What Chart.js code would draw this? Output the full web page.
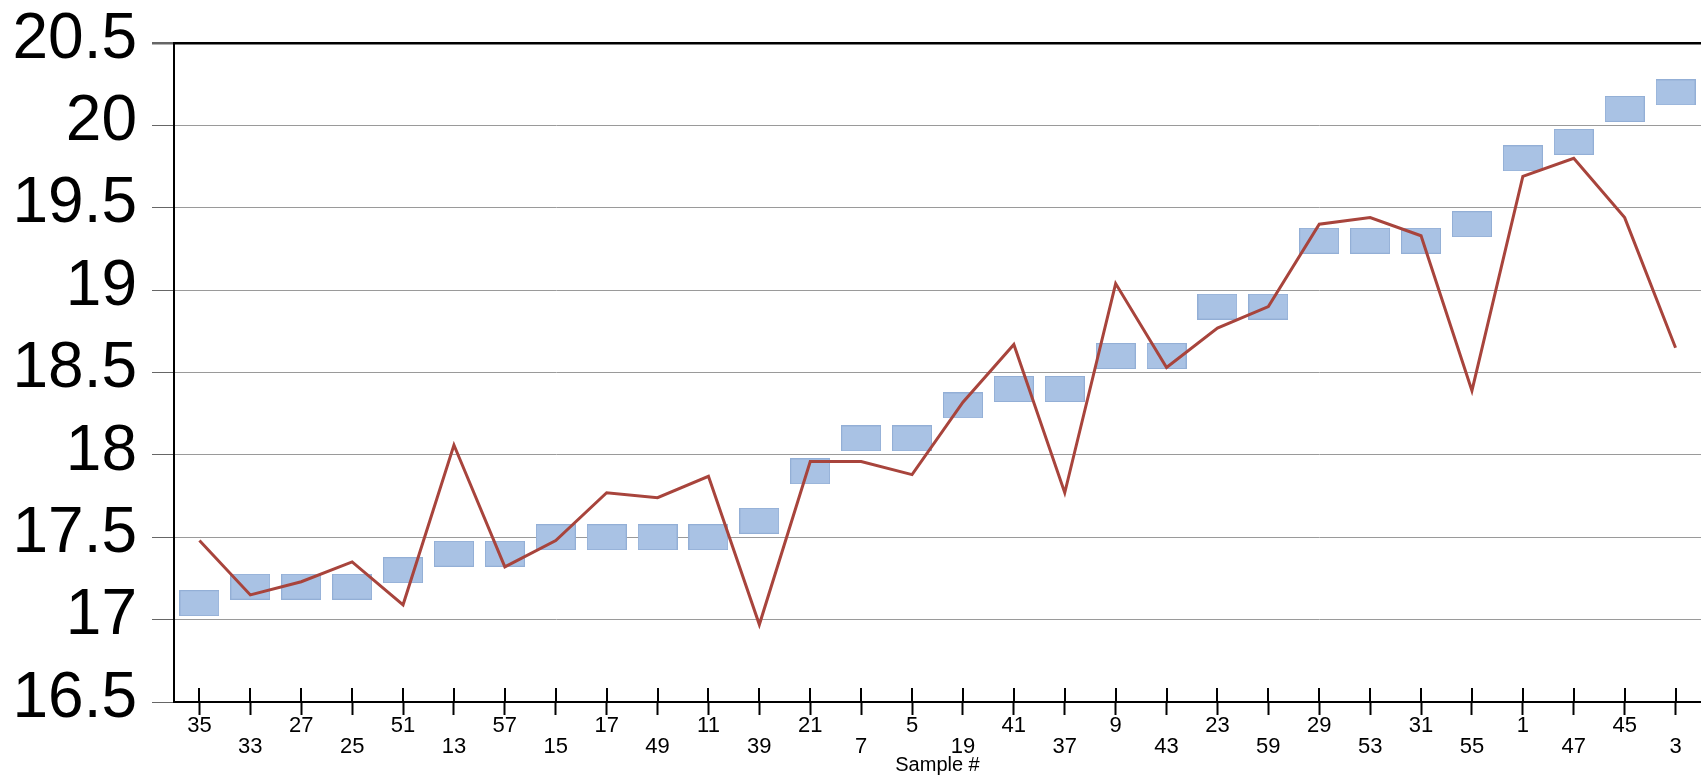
<!DOCTYPE html>
<html>
<head>
<meta charset="utf-8">
<script src="https://cdn.jsdelivr.net/npm/chart.js@4/dist/chart.umd.min.js"></script>
<style>
  html, body { margin: 0; padding: 0; background: #fff; overflow: hidden; }
  #wrap { width: 1701px; height: 780px; }
</style>
</head>
<body>
<div id="wrap"><canvas id="chart" width="1701" height="780"></canvas></div>
<script>
const samples = ['35', '33', '27', '25', '51', '13', '57', '15', '17', '49', '11', '39', '21', '7', '5',
  '19', '41', '37', '9', '43', '23', '59', '29', '53', '31', '55', '1', '47', '45', '3'];

// blue boxes
const boxValues = [17.1, 17.2, 17.2, 17.2, 17.3, 17.4, 17.4, 17.5, 17.5, 17.5, 17.5, 17.6, 17.9, 18.1, 18.1,
  18.3, 18.4, 18.4, 18.6, 18.6, 18.9, 18.9, 19.3, 19.3, 19.3, 19.4, 19.8, 19.9, 20.1, 20.2];

// red line
const lineValues = [17.48, 17.15, 17.23, 17.35, 17.09, 18.06, 17.32, 17.48, 17.77, 17.74, 17.87, 16.97, 17.96, 17.96, 17.88,
  18.32, 18.67, 17.77, 19.04, 18.53, 18.77, 18.90, 19.40, 19.44, 19.33, 18.39, 19.69, 19.80, 19.44, 18.65];

const yMin = 16.5;
const yMax = 20.5;

// rectangle marker
function boxMarker(w, h) {
  const c = document.createElement('canvas');
  c.width = w;
  c.height = h;
  const g = c.getContext('2d');
  g.fillStyle = '#a9c2e4';
  g.fillRect(0, 0, w, h);
  g.strokeStyle = '#93afd6';
  g.lineWidth = 1;
  g.strokeRect(0.5, 0.5, w - 1, h - 1);
  return c;
}

// x ticks cross the axis line, so draw the upper half too
const crossTicks = {
  id: 'crossTicks',
  afterDraw(chart) {
    const x = chart.scales.x;
    const ctx = chart.ctx;
    const bottom = chart.chartArea.bottom;
    ctx.save();
    ctx.strokeStyle = '#000';
    ctx.lineWidth = 2;
    for (let i = 0; i < samples.length; i++) {
      const px = Math.round(x.getPixelForTick(i));
      ctx.beginPath();
      ctx.moveTo(px, bottom - 14);
      ctx.lineTo(px, bottom);
      ctx.stroke();
    }
    ctx.restore();
  }
};

const isMajor = v => Math.abs(v * 2 - Math.round(v * 2)) < 1e-6;

new Chart(document.getElementById('chart').getContext('2d'), {
  type: 'line',
  data: {
    labels: samples,
    datasets: [
      {
        label: 'line',
        data: lineValues,
        borderColor: '#a8443c',
        borderWidth: 3,
        pointRadius: 0,
        tension: 0,
        order: 0
      },
      {
        label: 'boxes',
        data: boxValues,
        showLine: false,
        pointStyle: boxMarker(40, 26),
        pointRadius: 13,
        order: 1
      }
    ]
  },
  options: {
    responsive: false,
    animation: false,
    events: [],
    layout: { autoPadding: false, padding: { top: 43, left: 0, right: 0, bottom: 0 } },
    plugins: {
      legend: { display: false },
      tooltip: { enabled: false }
    },
    scales: {
      x: {
        type: 'category',
        offset: true,
        border: { display: true, color: '#000', width: 2 },
        grid: {
          drawOnChartArea: false,
          tickLength: 13,
          tickColor: '#000',
          tickWidth: 2
        },
        ticks: {
          autoSkip: false,
          maxRotation: 0,
          padding: 0,
          color: '#000',
          font: { family: 'Liberation Sans, Arial, sans-serif', size: 22, lineHeight: '21px' },
          callback(value, index) {
            const s = samples[index];
            return index % 2 === 0 ? [s] : ['', s];
          }
        },
        title: {
          display: true,
          text: 'Sample #',
          color: '#000',
          font: { family: 'Liberation Sans, Arial, sans-serif', size: 20 },
          padding: { top: 0, bottom: 3 }
        },
        afterFit(scale) {
          scale.height = 78;
          scale.paddingLeft = 0;
          scale.paddingRight = 0;
        }
      },
      y: {
        min: yMin,
        max: yMax,
        border: { display: true, color: '#000', width: 2 },
        grid: {
          color(ctx) {
            const v = ctx.tick.value;
            if (Math.abs(v - yMax) < 1e-6) return '#000';
            return isMajor(v) ? '#9a9a9a' : 'rgba(0,0,0,0)';
          },
          lineWidth(ctx) {
            return Math.abs(ctx.tick.value - yMax) < 1e-6 ? 2.5 : 1;
          },
          tickColor(ctx) {
            return isMajor(ctx.tick.value) ? '#666' : '#bbb';
          },
          tickLength: 22
        },
        ticks: {
          stepSize: 0.25,
          padding: 15,
          labelOffset: -3,
          color: '#000',
          font: { family: 'Liberation Sans, Arial, sans-serif', size: 64 },
          callback(value) {
            return isMajor(value) ? String(value) : '';
          }
        },
        afterFit(scale) {
          scale.width = 174;
          scale.paddingTop = 0;
          scale.paddingBottom = 0;
        }
      }
    }
  },
  plugins: [crossTicks]
});
</script>
</body>
</html>
